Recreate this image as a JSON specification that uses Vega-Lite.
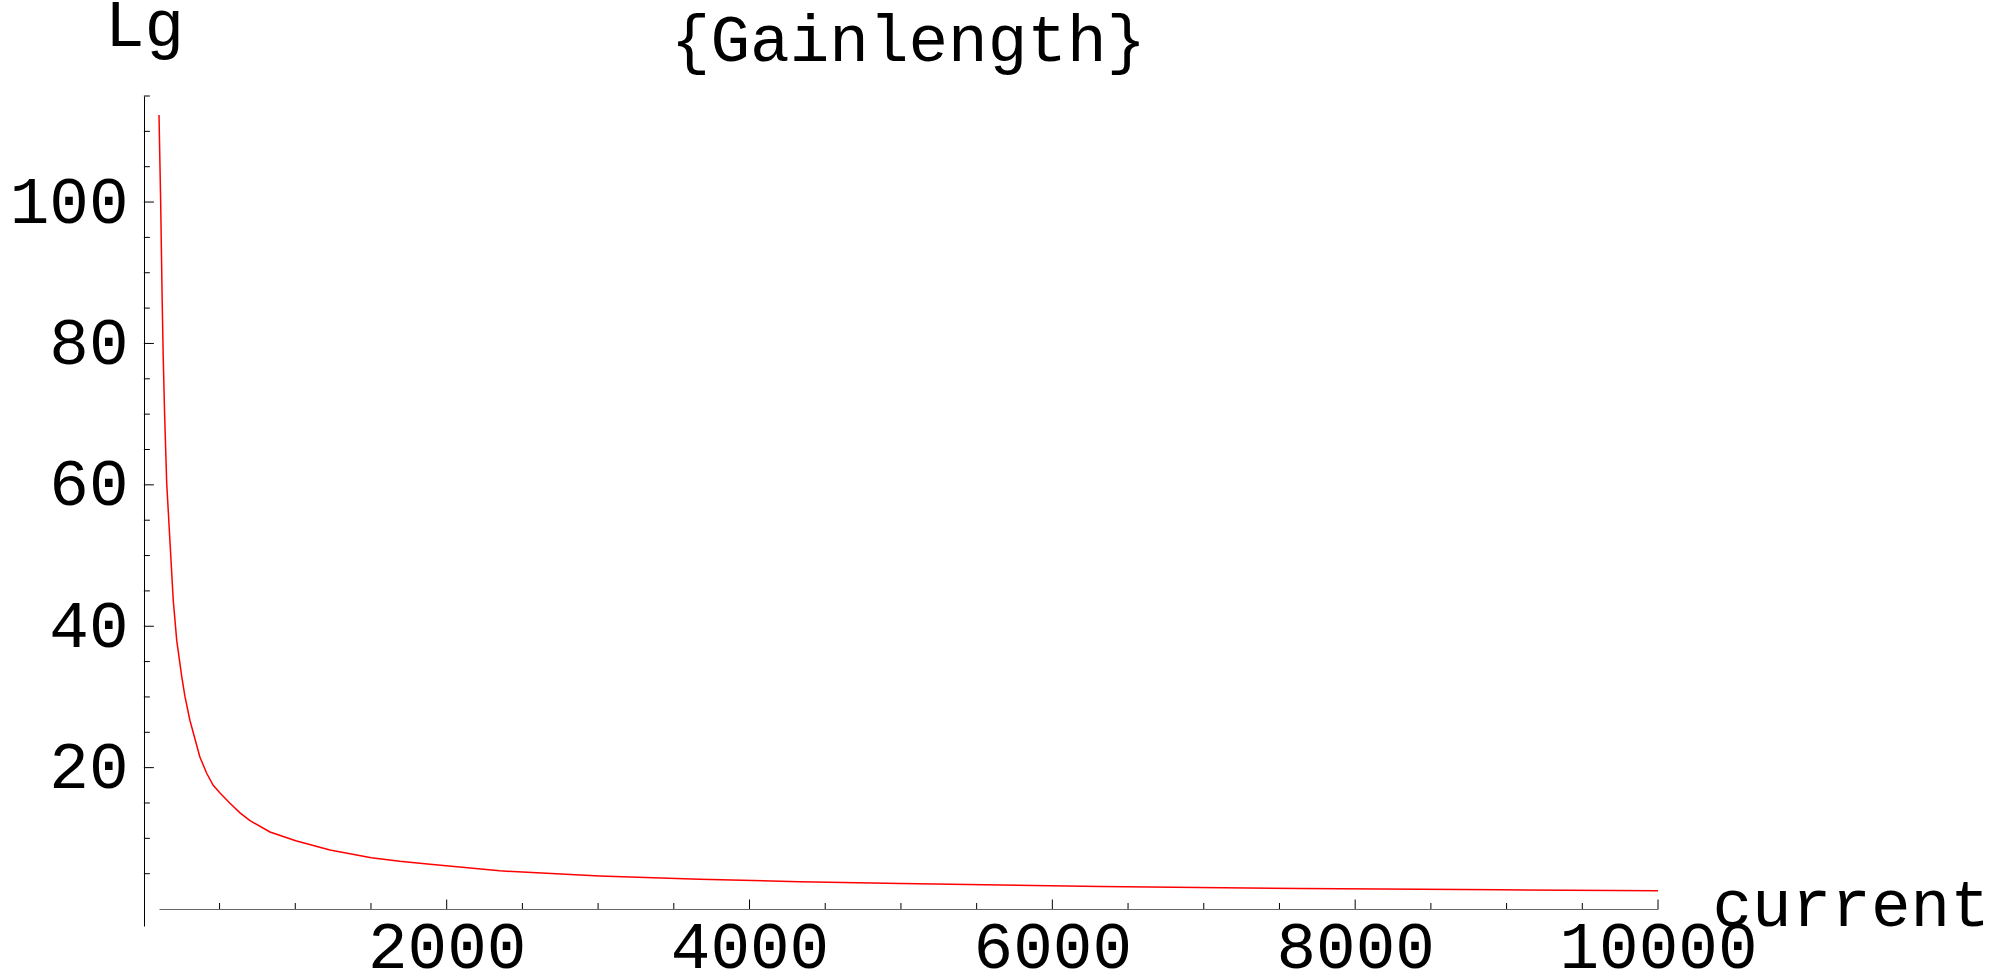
{
  "$schema": "https://vega.github.io/schema/vega-lite/v6.json",
  "autosize": "none",
  "padding": {"left": 159, "top": 96, "right": 345, "bottom": 48},
  "width": 1499,
  "height": 830,
  "background": "white",
  "config": {"view": {"stroke": null}},
  "title": {
    "text": "{Gainlength}",
    "font": "Liberation Mono",
    "fontSize": 66,
    "fontWeight": "normal",
    "color": "#000000",
    "anchor": "middle",
    "frame": "group",
    "baseline": "alphabetic",
    "offset": -135
  },
  "datasets": {
    "curve": [
      {"current": 100, "Lg": 112.3},
      {"current": 111, "Lg": 100},
      {"current": 121, "Lg": 86},
      {"current": 128, "Lg": 78},
      {"current": 137, "Lg": 70},
      {"current": 151, "Lg": 60.2},
      {"current": 157, "Lg": 57.9},
      {"current": 194, "Lg": 43.7},
      {"current": 217, "Lg": 38.0},
      {"current": 250, "Lg": 32.9},
      {"current": 271, "Lg": 30.1},
      {"current": 304, "Lg": 26.7},
      {"current": 370, "Lg": 21.5},
      {"current": 415, "Lg": 19.2},
      {"current": 458, "Lg": 17.5},
      {"current": 503, "Lg": 16.4},
      {"current": 569, "Lg": 14.95},
      {"current": 635, "Lg": 13.6},
      {"current": 701, "Lg": 12.5},
      {"current": 833, "Lg": 10.9},
      {"current": 1003, "Lg": 9.66},
      {"current": 1229, "Lg": 8.35},
      {"current": 1502, "Lg": 7.26},
      {"current": 1690, "Lg": 6.75},
      {"current": 1890, "Lg": 6.32},
      {"current": 2350, "Lg": 5.4},
      {"current": 3010, "Lg": 4.67},
      {"current": 3670, "Lg": 4.2},
      {"current": 4330, "Lg": 3.87},
      {"current": 5000, "Lg": 3.6},
      {"current": 6320, "Lg": 3.2},
      {"current": 7640, "Lg": 2.9},
      {"current": 8960, "Lg": 2.73},
      {"current": 10000, "Lg": 2.59}
    ],
    "yMajor": [{"v": 20}, {"v": 40}, {"v": 60}, {"v": 80}, {"v": 100}],
    "yMinor": [{"v": 5}, {"v": 10}, {"v": 15}, {"v": 25}, {"v": 30}, {"v": 35}, {"v": 45}, {"v": 50}, {"v": 55}, {"v": 65}, {"v": 70}, {"v": 75}, {"v": 85}, {"v": 90}, {"v": 95}, {"v": 105}, {"v": 110}, {"v": 115}],
    "xMajor": [{"v": 2000}, {"v": 4000}, {"v": 6000}, {"v": 8000}, {"v": 10000}],
    "xMinor": [{"v": 500}, {"v": 1000}, {"v": 1500}, {"v": 2500}, {"v": 3000}, {"v": 3500}, {"v": 4500}, {"v": 5000}, {"v": 5500}, {"v": 6500}, {"v": 7000}, {"v": 7500}, {"v": 8500}, {"v": 9000}, {"v": 9500}]
  },
  "layer": [
    {
      "data": {"name": "curve"},
      "mark": {"type": "line", "color": "#ff0000", "strokeWidth": 1.5, "clip": false},
      "encoding": {
        "x": {
          "field": "current",
          "type": "quantitative",
          "scale": {"domain": [100, 10000], "nice": false, "zero": false},
          "axis": {
            "orient": "bottom",
            "offset": -17,
            "values": [2000, 4000, 6000, 8000, 10000],
            "format": "d",
            "ticks": false,
            "tickSize": 0,
            "grid": false,
            "labelFlush": false,
            "labelOverlap": false,
            "labelLimit": 0,
            "labelPadding": 58,
            "labelBaseline": "alphabetic",
            "labelFont": "Liberation Mono",
            "labelFontSize": 66,
            "labelColor": "#000000",
            "domainColor": "#666666",
            "domainWidth": 1,
            "title": "current",
            "titleFont": "Liberation Mono",
            "titleFontSize": 66,
            "titleFontWeight": "normal",
            "titleColor": "#000000",
            "titleAlign": "left",
            "titleBaseline": "alphabetic",
            "titleAnchor": "start",
            "titleLimit": 0,
            "titleX": 1553,
            "titleY": 16
          }
        },
        "y": {
          "field": "Lg",
          "type": "quantitative",
          "scale": {"domain": [-2.4, 115], "nice": false, "zero": false},
          "axis": {
            "orient": "left",
            "offset": 15,
            "values": [20, 40, 60, 80, 100],
            "format": "d",
            "ticks": false,
            "tickSize": 0,
            "grid": false,
            "labelFlush": false,
            "labelOverlap": false,
            "labelLimit": 0,
            "labelPadding": 16,
            "labelAlign": "right",
            "labelBaseline": "middle",
            "labelFont": "Liberation Mono",
            "labelFontSize": 66,
            "labelColor": "#000000",
            "domainColor": "#000000",
            "domainWidth": 1,
            "title": "Lg",
            "titleFont": "Liberation Mono",
            "titleFontSize": 66,
            "titleFontWeight": "normal",
            "titleColor": "#000000",
            "titleAngle": 0,
            "titleAlign": "center",
            "titleBaseline": "alphabetic",
            "titleLimit": 0,
            "titleX": 0,
            "titleY": -51
          }
        }
      }
    },
    {
      "data": {"name": "yMajor"},
      "mark": {"type": "tick", "orient": "horizontal", "size": 10, "thickness": 1, "xOffset": 5, "color": "#000000", "opacity": 1},
      "encoding": {
        "x": {"datum": 0, "type": "quantitative"},
        "y": {"field": "v", "type": "quantitative"}
      }
    },
    {
      "data": {"name": "yMinor"},
      "mark": {"type": "tick", "orient": "horizontal", "size": 6, "thickness": 1, "xOffset": 3, "color": "#000000", "opacity": 1},
      "encoding": {
        "x": {"datum": 0, "type": "quantitative"},
        "y": {"field": "v", "type": "quantitative"}
      }
    },
    {
      "data": {"name": "xMajor"},
      "mark": {"type": "tick", "orient": "vertical", "size": 9.5, "thickness": 1, "yOffset": -4.75, "color": "#000000", "opacity": 1},
      "encoding": {
        "x": {"field": "v", "type": "quantitative"},
        "y": {"datum": 0, "type": "quantitative"}
      }
    },
    {
      "data": {"name": "xMinor"},
      "mark": {"type": "tick", "orient": "vertical", "size": 6, "thickness": 1, "yOffset": -3, "color": "#000000", "opacity": 1},
      "encoding": {
        "x": {"field": "v", "type": "quantitative"},
        "y": {"datum": 0, "type": "quantitative"}
      }
    }
  ]
}
